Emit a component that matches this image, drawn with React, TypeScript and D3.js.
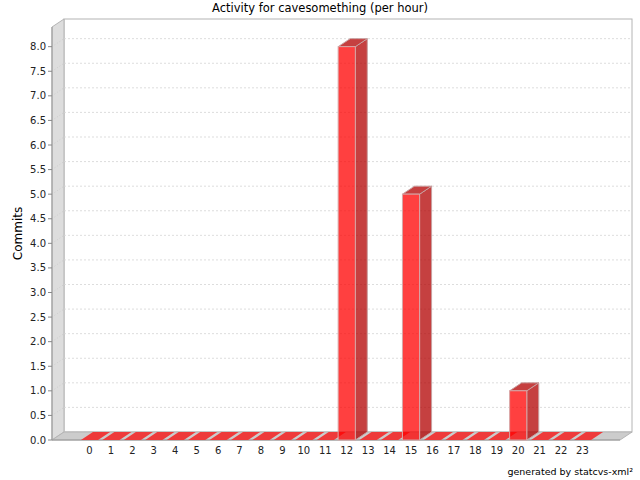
import React from "react";
import * as d3 from "d3";

const hours: string[] = Array.from({ length: 24 }, (_, i) => String(i));
const commits: number[] = [0, 0, 0, 0, 0, 0, 0, 0, 0, 0, 0, 0, 8, 0, 0, 5, 0, 0, 0, 0, 1, 0, 0, 0];
const yTicks: number[] = d3.range(0, 8.01, 0.5);
const title = "Activity for cavesomething (per hour)";
const yLabel = "Commits";
const footer = "generated by statcvs-xml²";

const W = 640, H = 480;
const X0 = 52, X1 = 620, YB = 440, YT = 27;
const DX = 12, DY = 8;
const FONT = "DejaVu Sans, sans-serif";

export default function App() {
  const y = d3.scaleLinear().domain([0, 8.4]).range([YB, YT]);
  const x = d3.scaleBand<string>().domain(hours).range([X0, X1]).paddingInner(0.2).paddingOuter(1.35);
  const bw = x.bandwidth();
  const pts = (p: number[][]) => p.map((q) => q.join(",")).join(" ");
  const fmt = d3.format(".1f");

  return (
    <svg width={W} height={H} style={{ position: "absolute", left: 0, top: 0, background: "#fff" }}>
      <rect x={0} y={0} width={W} height={H} fill="#fff" />
      <text x={320} y={12} textAnchor="middle" fontFamily={FONT} fontSize={11.5} fill="#000">{title}</text>

      {/* back wall */}
      <rect x={X0 + DX} y={YT - DY} width={X1 - X0} height={YB - YT} fill="#fff" stroke="#b4b4b4" strokeWidth={1} />
      {/* left wall */}
      <polygon points={pts([[X0, YT], [X0 + DX, YT - DY], [X0 + DX, YB - DY], [X0, YB]])} fill="#dddddd" stroke="#b4b4b4" />
      {/* gridlines */}
      {yTicks.map((t) => (
        <g key={t}>
          <line x1={X0 + DX} x2={X1 + DX} y1={y(t) - DY} y2={y(t) - DY} stroke="#d4d4d4" strokeDasharray="2,2" strokeWidth={0.8} />
          <line x1={X0} x2={X0 + DX} y1={y(t)} y2={y(t) - DY} stroke="#c8c8c8" strokeDasharray="1,2" strokeWidth={0.8} />
        </g>
      ))}
      {/* floor */}
      <polygon points={pts([[X0, YB], [X0 + DX, YB - DY], [X1 + DX, YB - DY], [X1, YB]])} fill="#cccccc" stroke="#b4b4b4" />
      {/* front axis line */}
      <line x1={X0} x2={X0} y1={YT} y2={YB} stroke="#999" />
      <line x1={X0} x2={X1} y1={YB} y2={YB} stroke="#999" />

      {/* bars */}
      {hours.map((h, i) => {
        const v = commits[i];
        const bx = x(h)!;
        const yt = y(v);
        if (v === 0) {
          return (
            <polygon key={h} points={pts([[bx, YB], [bx + DX, YB - DY], [bx + bw + DX, YB - DY], [bx + bw, YB]])} fill="#ee3a3a" />
          );
        }
        return (
          <g key={h}>
            <polygon points={pts([[bx + bw, yt], [bx + bw + DX, yt - DY], [bx + bw + DX, YB - DY], [bx + bw, YB]])} fill="rgb(178,0,0)" fillOpacity={0.75} stroke="#c8a0a0" strokeWidth={1} />
            <polygon points={pts([[bx, yt], [bx + DX, yt - DY], [bx + bw + DX, yt - DY], [bx + bw, yt]])} fill="rgb(178,0,0)" fillOpacity={0.75} stroke="#c8a0a0" strokeWidth={1} />
            <rect x={bx} y={yt} width={bw} height={YB - yt} fill="rgb(255,0,0)" fillOpacity={0.75} stroke="#d8a8a8" strokeWidth={1} />
          </g>
        );
      })}

      {/* y axis ticks */}
      {yTicks.map((t) => (
        <g key={"t" + t}>
          <line x1={X0 - 4} x2={X0} y1={y(t)} y2={y(t)} stroke="#888" />
          <text x={X0 - 6} y={y(t) + 3.5} textAnchor="end" fontFamily={FONT} fontSize={10} fill="#222">{fmt(t)}</text>
        </g>
      ))}
      {/* x labels */}
      {hours.map((h) => (
        <text key={"x" + h} x={x(h)! + bw / 2} y={454} textAnchor="middle" fontFamily={FONT} fontSize={10} fill="#222">{h}</text>
      ))}
      <text transform={`translate(22,${(YT + YB) / 2}) rotate(-90)`} textAnchor="middle" fontFamily={FONT} fontSize={12} fill="#000">{yLabel}</text>
      <text x={633} y={475} textAnchor="end" fontFamily={FONT} fontSize={9.5} fill="#000">{footer}</text>
    </svg>
  );
}
